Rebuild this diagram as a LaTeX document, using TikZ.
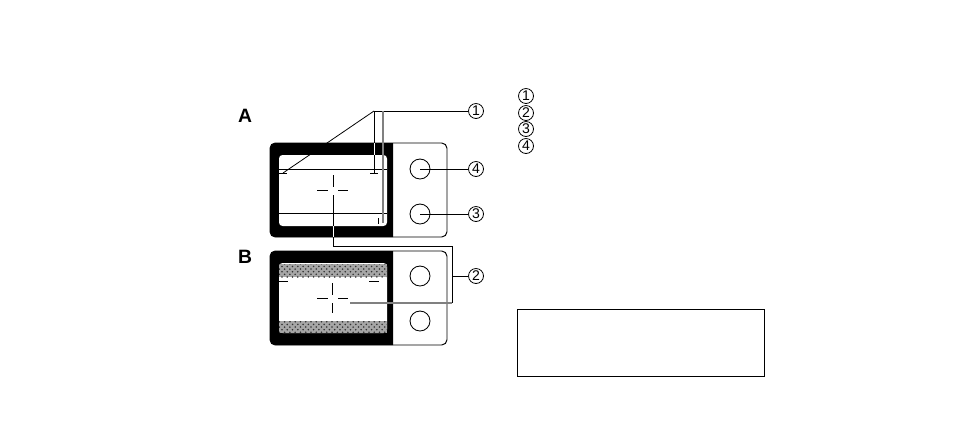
\documentclass[tikz,border=0pt]{standalone}
\usepackage{fontspec}
\setmainfont{Liberation Sans}
\usetikzlibrary{calc,patterns}
\tikzstyle{callout}=[circle,draw=black,fill=white,line width=0.45pt,inner sep=0pt,minimum size=0.3cm,font=\fontsize{8}{8}\selectfont]
\tikzstyle{knob}=[circle,draw=black,fill=white,line width=0.5pt,inner sep=0pt,minimum size=0.4cm]
\tikzstyle{panel}=[draw=black,line width=0.55pt,rounded corners=3pt]
\tikzstyle{screen}=[fill=white,rounded corners=2pt]
\tikzstyle{leader}=[draw=black,line width=0.45pt]
\tikzstyle{greyleader}=[draw=black!50,line width=0.6pt]
\tikzstyle{slit}=[draw=white,line width=0.4pt]
\tikzstyle{tick}=[draw=black,line width=0.5pt]
\tikzstyle{tone}=[preaction={fill=black!35},pattern=crosshatch dots,pattern color=black!80]
\tikzstyle{tag}=[font=\fontsize{11}{12}\selectfont\bfseries]

\begin{document}
\begin{tikzpicture}[x=0.02cm,y=-0.02cm]
	\useasboundingbox (0,0) rectangle (954,443);

	% set A
	\draw[panel] (270,143) rectangle (447,237);
	\fill (393,143) [rounded corners=3pt] -- (270,143) -- (270,237) [sharp corners] -- (393,237) -- cycle;
	\fill[screen] (279,155) rectangle (387,226);
	\draw[tick] (279,169) -- (387,169);
	\draw[tick] (279,213) -- (387,213);
	\draw[tick] (333,175) -- (333,187);
	\draw[tick] (317,190) -- (328,190);
	\draw[tick] (338,190) -- (348,190);
	\draw[tick] (279,173) -- (287,173);
	\draw[tick] (370,173) -- (378,173);
	\draw[tick] (378,218) -- (378,224);
	\node[knob] (knob4) at (420,169) {};
	\node[knob] (knob3) at (420,214) {};

	% set B
	\draw[panel] (270,251) rectangle (447,345);
	\fill (393,251) [rounded corners=3pt] -- (270,251) -- (270,345) [sharp corners] -- (393,345) -- cycle;
	\fill[screen] (279,263) rectangle (387,333);
	\fill[tone] (279,264) rectangle (387,277);
	\fill[tone] (279,321) rectangle (387,333);
	\draw[tick] (279,281) -- (288,281);
	\draw[tick] (369,281) -- (379,281);
	\draw[tick] (332,283) -- (332,295);
	\draw[tick] (332,303) -- (332,313);
	\draw[tick] (317,298) -- (328,298);
	\draw[tick] (338,298) -- (348,298);
	\node[knob] (knobB1) at (420,276) {};
	\node[knob] (knobB2) at (420,321) {};

	\node[tag] (tagA) at (245,116) {A};
	\node[tag] (tagB) at (245,257) {B};

	\node[callout] (c1) at (476,111) {1};
	\node[callout] (c4) at (476,169) {4};
	\node[callout] (c3) at (476,214) {3};
	\node[callout] (c2) at (476,276) {2};

	\coordinate (apex) at (374,111);
	\coordinate (drop) at (383,111);
	\coordinate (endL) at (283,173);
	\coordinate (endM) at (374,173);
	\coordinate (endR) at (383,223);
	\coordinate (crossA) at (333,195);
	\coordinate (crossB) at (350,303);
	\coordinate (cornerA) at (333,246);
	\coordinate (cornerT) at (452,246);
	\coordinate (cornerS) at (452,276);
	\coordinate (cornerB) at (452,303);

	\draw[leader] (c1) -- (apex);
	\draw[leader] (apex) -- (endL);
	\draw[leader] (apex) -- (endM);
	\draw[greyleader] (drop) -- (endR);
	\draw[leader] (c4) -- (knob4.center);
	\draw[leader] (c3) -- (knob3.center);
	\draw[leader] (crossA) -- (cornerA) -- (cornerT) -- (cornerB);
	\draw[greyleader] (cornerB) -- (crossB);
	\draw[leader] (c2) -- (cornerS);

	% leaders where they cross the black frame
	\draw[slit] (374,143) -- (374,155);
	\draw[slit] (333,226) -- (333,237);

	% list of callouts
	\node[callout] (l1) at (526,96) {1};
	\node[callout] (l2) at (526,113) {2};
	\node[callout] (l3) at (526,129) {3};
	\node[callout] (l4) at (526,146) {4};

	\node[draw=black,line width=0.5pt,minimum width=4.94cm,minimum height=1.34cm,inner sep=0pt] (notebox) at (640.5,342.5) {};
\end{tikzpicture}
\end{document}
